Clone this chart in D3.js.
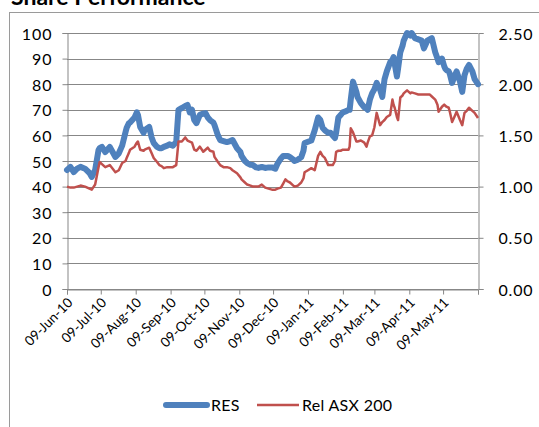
<!DOCTYPE html>
<html><head><meta charset="utf-8">
<script src="https://cdn.jsdelivr.net/npm/d3@7"></script>
<style>html,body{margin:0;padding:0;background:#fff;}svg{display:block;font-family:Lato,"Open Sans",sans-serif;}</style>
</head><body>
<script>
const dates = ["2010-06-09","2010-06-12","2010-06-15","2010-06-18","2010-06-21","2010-06-25","2010-06-29","2010-07-01","2010-07-04","2010-07-07","2010-07-08","2010-07-10","2010-07-13","2010-07-17","2010-07-22","2010-07-25","2010-07-28","2010-07-31","2010-08-01","2010-08-03","2010-08-04","2010-08-08","2010-08-10","2010-08-11","2010-08-13","2010-08-16","2010-08-17","2010-08-21","2010-08-23","2010-08-25","2010-08-28","2010-08-30","2010-09-01","2010-09-03","2010-09-06","2010-09-08","2010-09-11","2010-09-14","2010-09-16","2010-09-19","2010-09-22","2010-09-24","2010-09-26","2010-09-28","2010-09-30","2010-10-02","2010-10-05","2010-10-08","2010-10-10","2010-10-12","2010-10-14","2010-10-17","2010-10-18","2010-10-21","2010-10-23","2010-10-26","2010-10-29","2010-11-01","2010-11-03","2010-11-07","2010-11-10","2010-11-11","2010-11-14","2010-11-16","2010-11-19","2010-11-21","2010-11-24","2010-11-26","2010-11-29","2010-12-02","2010-12-05","2010-12-08","2010-12-11","2010-12-13","2010-12-16","2010-12-18","2010-12-20","2010-12-22","2010-12-24","2010-12-27","2010-12-28","2010-12-31","2011-01-03","2011-01-05","2011-01-06","2011-01-09","2011-01-12","2011-01-15","2011-01-18","2011-01-20","2011-01-22","2011-01-24","2011-01-27","2011-01-29","2011-01-31","2011-02-02","2011-02-03","2011-02-05","2011-02-07","2011-02-09","2011-02-12","2011-02-14","2011-02-15","2011-02-16","2011-02-18","2011-02-21","2011-02-22","2011-02-25","2011-02-28","2011-03-02","2011-03-03","2011-03-05","2011-03-07","2011-03-09","2011-03-11","2011-03-14","2011-03-16","2011-03-18","2011-03-20","2011-03-23","2011-03-25","2011-03-26","2011-03-27","2011-03-29","2011-03-30","2011-04-01","2011-04-03","2011-04-04","2011-04-07","2011-04-10","2011-04-11","2011-04-14","2011-04-17","2011-04-20","2011-04-22","2011-04-25","2011-04-27","2011-04-29","2011-05-02","2011-05-04","2011-05-05","2011-05-08","2011-05-10","2011-05-11","2011-05-12","2011-05-14","2011-05-15","2011-05-17","2011-05-19","2011-05-21","2011-05-24","2011-05-26","2011-05-28","2011-05-30","2011-06-01","2011-06-04","2011-06-06","2011-06-09"];
const resValues = [46.5,47.7,45.7,47,47.7,47,45.3,43.8,46.5,54.3,55,55.5,53.5,55.5,51.6,53,56,61.3,63,64.8,65,67,69,68,63.3,61,62,63.3,59.4,57,55.5,55,55,55.5,56,56.5,56,57.4,70,70.7,71.5,71.9,69,70,66,64.8,68,68.5,68.7,67,66,65,64,60,58.2,57.8,57.4,57.8,58.2,55,53.5,52,50,49.2,48.5,48.4,47.5,47.3,47.7,47.3,47.5,47.5,47,49,51,52,52,52,51.5,50.5,50,50.5,51.5,54,57,57.5,58,62,67,66,63,62,61,61,60,59,61,67,68,69,69.5,70,70,74,81,77,75,72.6,71,70.5,70,74,76.5,78,80.5,78,75,82,85,88.6,89.5,90.6,88,83,86,92.5,95,97,100,99,100,98,97.5,97,94,97,97.5,98,92.5,90,88.6,90,87,86,85.5,85,84,80.5,83,85,81,77,83.5,86,87.5,85,82,80];
const relValues = [1.00,0.99,0.99,1.00,1.01,1.00,0.98,0.97,1.02,1.19,1.24,1.22,1.19,1.21,1.14,1.16,1.23,1.25,1.28,1.33,1.36,1.39,1.43,1.44,1.36,1.35,1.36,1.38,1.33,1.28,1.24,1.21,1.20,1.18,1.19,1.19,1.19,1.21,1.44,1.44,1.48,1.45,1.44,1.43,1.36,1.35,1.39,1.34,1.36,1.38,1.35,1.34,1.29,1.24,1.21,1.19,1.19,1.18,1.16,1.13,1.09,1.07,1.04,1.02,1.01,1.00,1.00,1.00,1.02,0.99,0.98,0.97,0.97,0.98,0.99,1.03,1.07,1.05,1.04,1.01,1.00,1.01,1.04,1.08,1.14,1.16,1.18,1.16,1.30,1.34,1.30,1.28,1.21,1.21,1.21,1.25,1.34,1.35,1.35,1.36,1.36,1.36,1.39,1.57,1.53,1.44,1.44,1.45,1.43,1.39,1.43,1.49,1.50,1.58,1.72,1.60,1.63,1.65,1.68,1.70,1.85,1.80,1.77,1.68,1.65,1.87,1.89,1.91,1.94,1.91,1.92,1.91,1.90,1.90,1.90,1.90,1.90,1.88,1.85,1.80,1.73,1.78,1.80,1.79,1.78,1.77,1.73,1.63,1.68,1.73,1.65,1.60,1.72,1.74,1.77,1.74,1.72,1.67];
const leftTicks = [0,10,20,30,40,50,60,70,80,90,100];
const rightTicks = [0,0.5,1,1.5,2,2.5];
const monthTicks = ["2010-06-09","2010-07-09","2010-08-09","2010-09-09","2010-10-09","2010-11-09","2010-12-09","2011-01-09","2011-02-09","2011-03-09","2011-04-09","2011-05-09","2011-06-09"];
const monthLabels = ["09-Jun-10","09-Jul-10","09-Aug-10","09-Sep-10","09-Oct-10","09-Nov-10","09-Dec-10","09-Jan-11","09-Feb-11","09-Mar-11","09-Apr-11","09-May-11",""];
const seriesNames = ["RES","Rel ASX 200"];
const colors = ["#4F81BD","#C0504D"];

const W = 539, H = 427;
const L = 67, R = 478, T = 33, B = 289;
const parse = d3.timeParse("%Y-%m-%d");
const svg = d3.select("body").append("svg").attr("width", W).attr("height", H);

svg.append("rect").attr("x",9.5).attr("y",12.5).attr("width",700).attr("height",600)
  .attr("fill","none").attr("stroke","#9a9a9a");

svg.append("text").attr("x",11).attr("y",5).attr("font-size",23).attr("font-weight","bold").text("Share Performance");

const x = d3.scaleTime().domain([parse(monthTicks[0]), parse(monthTicks[12])]).range([L, R]);
const yL = d3.scaleLinear().domain([0,100]).range([B, T]);
const yR = d3.scaleLinear().domain([0,2.5]).range([B, T]);

svg.append("g").selectAll("line").data(leftTicks).join("line")
  .attr("x1",L).attr("x2",R).attr("y1",d=>Math.round(yL(d))+0.5).attr("y2",d=>Math.round(yL(d))+0.5)
  .attr("stroke","#878787").attr("stroke-width",1);

const gL = svg.append("g").attr("transform",`translate(${L+0.5},0)`)
  .call(d3.axisLeft(yL).tickValues(leftTicks).tickSize(5).tickPadding(10).tickFormat(d3.format("d")));
const gR = svg.append("g").attr("transform",`translate(${R+0.5},0)`)
  .call(d3.axisRight(yR).tickValues(rightTicks).tickSize(5).tickPadding(15).tickFormat(d3.format(".2f")));
const gX = svg.append("g").attr("transform",`translate(0,${B+0.5})`)
  .call(d3.axisBottom(x).tickValues(monthTicks.map(parse)).tickSize(5).tickFormat((d,i)=>monthLabels[i]));

[gL,gR,gX].forEach(g=>{
  g.select(".domain").attr("stroke","#878787");
  g.selectAll(".tick line").attr("stroke","#878787");
  g.selectAll("text").attr("fill","#000").attr("font-family","Lato,'Open Sans',sans-serif");
});
gL.selectAll("text").attr("font-size",16).attr("letter-spacing","1px").attr("dy","0.38em");
gR.selectAll("text").attr("font-size",16).attr("letter-spacing","0.8px").attr("dy","0.38em");
gX.selectAll("text").attr("font-size",13.5)
  .attr("text-anchor","end").attr("dy",0).attr("y",0)
  .attr("transform","translate(6,14) rotate(-45)");

const resData = dates.map((d,i)=>({d:parse(d), v:resValues[i]}));
const relData = dates.map((d,i)=>({d:parse(d), v:relValues[i]}));

svg.append("path").datum(resData).attr("fill","none").attr("stroke",colors[0]).attr("stroke-width",6)
  .attr("stroke-linejoin","round").attr("stroke-linecap","round")
  .attr("d", d3.line().x(p=>x(p.d)).y(p=>yL(p.v)));
svg.append("path").datum(relData).attr("fill","none").attr("stroke",colors[1]).attr("stroke-width",2.5)
  .attr("stroke-linejoin","round")
  .attr("d", d3.line().x(p=>x(p.d)).y(p=>yR(p.v)));

const leg = svg.append("g");
leg.append("line").attr("x1",166).attr("x2",207).attr("y1",405).attr("y2",405)
  .attr("stroke",colors[0]).attr("stroke-width",6).attr("stroke-linecap","round");
leg.append("text").attr("x",211).attr("y",410.5).attr("font-size",16).attr("letter-spacing","0.3px").text(seriesNames[0]);
leg.append("line").attr("x1",257).attr("x2",299).attr("y1",405).attr("y2",405)
  .attr("stroke",colors[1]).attr("stroke-width",2.5);
leg.append("text").attr("x",302).attr("y",410.5).attr("font-size",16).attr("letter-spacing","0.3px").text(seriesNames[1]);
</script>
</body></html>
